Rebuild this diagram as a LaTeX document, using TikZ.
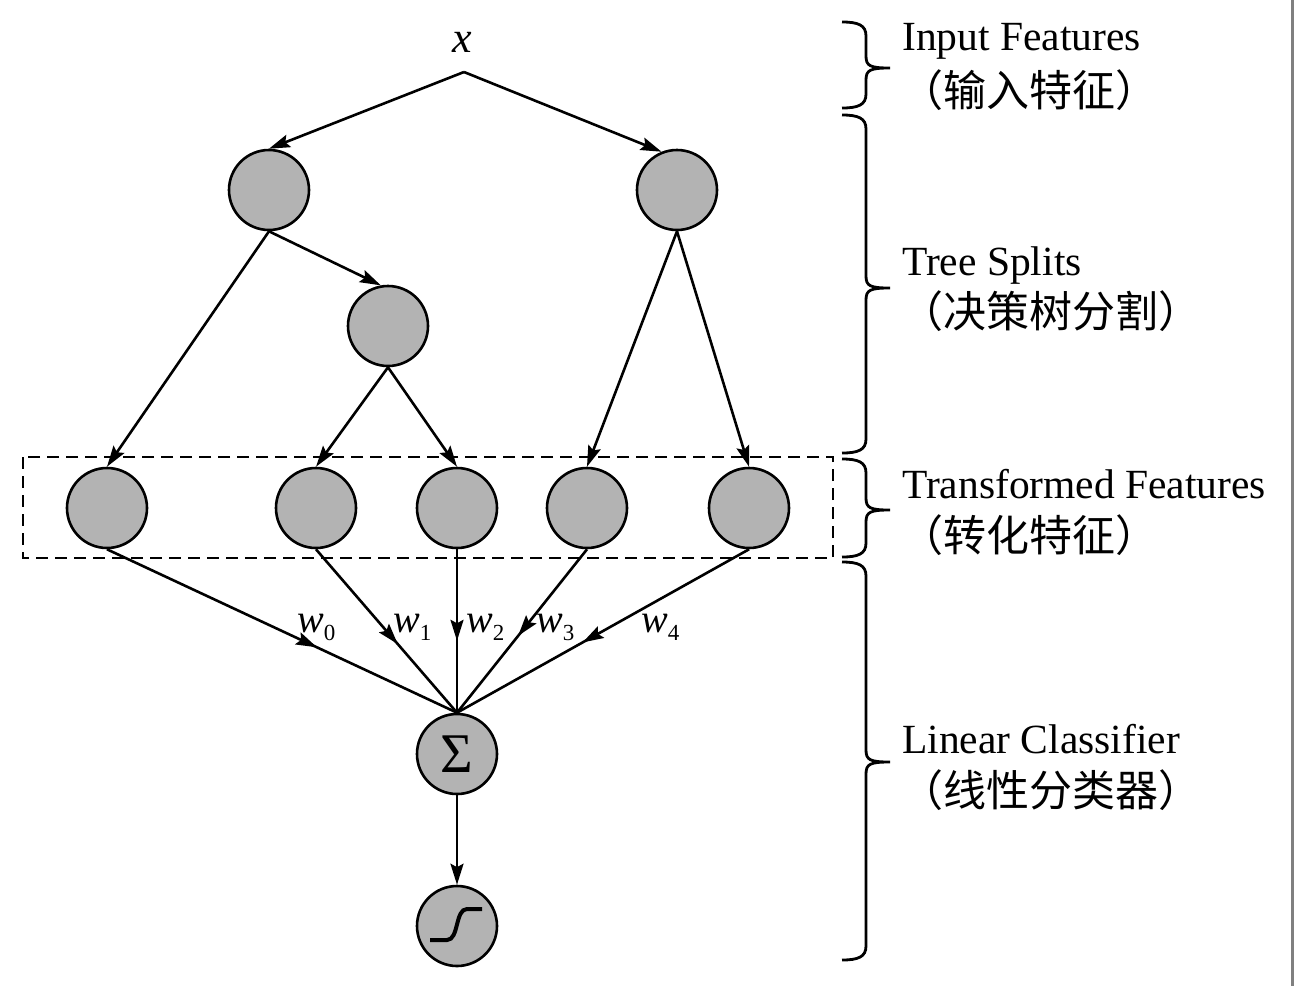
\documentclass[tikz,border=0pt]{standalone}
\usepackage{fontspec}
\setmainfont{Liberation Serif}
\newfontfamily\cjkf{Noto Sans CJK SC}
\usetikzlibrary{arrows.meta,decorations.markings}
\definecolor{nodegray}{RGB}{179,179,179}
\newcommand\subw[1]{w\raisebox{-8pt}{\upshape\fontsize{23}{23}\selectfont #1}}
\newcommand\mybrace[3]{%
  \draw[brl] (842,#1) .. controls (858,#1) and (866,{#1+3}) .. (866,{#1+14})
    -- (866,{#2-12}) .. controls (866,{#2-2}) and (870,#2) .. (890,#2)
    .. controls (870,#2) and (866,{#2+2}) .. (866,{#2+12})
    -- (866,{#3-14}) .. controls (866,{#3-3}) and (858,#3) .. (842,#3);}
\begin{document}
\begin{tikzpicture}[x=1pt,y=-1pt,
  nd/.style={circle,draw,fill=nodegray,line width=2.6pt,minimum size=80pt,inner sep=0},
  ar/.style={line width=2.6pt,-{Stealth[length=21pt,width=13pt,inset=3.5pt]}},
  midar/.style={line width=2.6pt,postaction={decorate},decoration={markings,mark=at position #1 with {\arrow{Stealth[length=21pt,width=13pt,inset=3.5pt]}}}},
  brl/.style={line width=2.8pt},
  lat/.style={inner sep=0,anchor=base west,font=\fontsize{41.5}{48}\selectfont},
  chn/.style={inner sep=0,anchor=base west,font=\cjkf\fontsize{43}{50}\selectfont},
  wl/.style={inner sep=0,anchor=base west,font=\fontsize{40}{44}\selectfont\itshape}
]
\useasboundingbox (0,0) rectangle (1294,986);
\fill[white] (0,0) rectangle (1294,986);
\draw[gray,line width=2.5pt] (1292.5,0) -- (1292.5,986);

% input
\node[inner sep=0,anchor=base,font=\fontsize{44}{48}\selectfont\itshape] (xin) at (462,52) {x};
\coordinate (fork) at (464,72);

% tree nodes
\node[nd] (A) at (269,190) {};
\node[nd] (B) at (677,190) {};
\node[nd] (C) at (388,326) {};
% transformed features
\node[nd] (T0) at (107,508) {};
\node[nd] (T1) at (316,508) {};
\node[nd] (T2) at (457,508) {};
\node[nd] (T3) at (587,508) {};
\node[nd] (T4) at (749,508) {};
\draw[dashed,dash pattern=on 12pt off 7pt,line width=2.6pt] (23,457) rectangle (833,558);
% classifier
\node[nd,font=\fontsize{56}{56}\selectfont] (S) at (457,754) {Σ};
\node[nd] (G) at (457,926) {};
\draw[line width=4pt] (430,940) -- (447,940) .. controls (459,940) and (455,909) .. (467,909) -- (482,909);

% edges
\draw[ar] (fork) -- (A.north);
\draw[ar] (fork) -- (B.112);
\draw[ar] (A.south) -- (C.100);
\draw[ar] (A.south) -- (T0.north);
\draw[ar] (C.south) -- (T1.north);
\draw[ar] (C.south) -- (T2.north);
\draw[ar] (B.south) -- (T3.north);
\draw[ar] (B.south) -- (T4.north);
\draw[midar=0.6] (T0.south) -- (S.north);
\draw[midar=0.58] (T1.south) -- (S.north);
\draw[midar=0.56] (T2.south) -- (S.north);
\draw[midar=0.53] (T3.south) -- (S.north);
\draw[midar=0.57] (T4.south) -- (S.north);
\draw[ar] (S.south) -- (G.north);

% weights
\node[wl] (w0) at (297,632) {\subw{0}};
\node[wl] (w1) at (393,632) {\subw{1}};
\node[wl] (w2) at (466,632) {\subw{2}};
\node[wl] (w3) at (536,632) {\subw{3}};
\node[wl] (w4) at (641,632) {\subw{4}};

% braces
\mybrace{22}{68}{108}
\mybrace{115}{288}{453}
\mybrace{459}{510}{557}
\mybrace{562}{762}{960}

% layer labels
\node[lat] (tIn) at (902,50) {Input Features};
\node[chn] (cIn) at (900,106) {（输入特征）};
\node[lat] (tTr) at (902,275) {Tree Splits};
\node[chn] (cTr) at (900,327) {（决策树分割）};
\node[lat] (tTf) at (902,498) {Transformed Features};
\node[chn] (cTf) at (900,551) {（转化特征）};
\node[lat] (tLc) at (902,753) {Linear Classifier};
\node[chn] (cLc) at (900,806) {（线性分类器）};
\end{tikzpicture}
\end{document}
